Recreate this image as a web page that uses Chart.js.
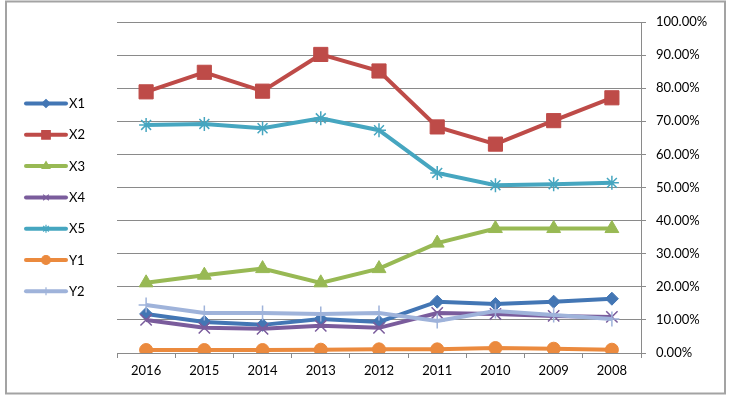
<!DOCTYPE html>
<html>
<head>
<meta charset="utf-8">
<script src="https://cdn.jsdelivr.net/npm/chart.js@4"></script>
<style>
  html, body { margin: 0; padding: 0; background: #fff; }
  #wrap { width: 731px; height: 400px; }
</style>
</head>
<body>
<div id="wrap"><canvas id="chart" width="731" height="400"></canvas></div>
<script>
// values (percent)
const years = ['2016', '2015', '2014', '2013', '2012', '2011', '2010', '2009', '2008'];
const seriesNames = ['X1', 'X2', 'X3', 'X4', 'X5', 'Y1', 'Y2'];
const x1 = [11.8, 9.4, 8.5, 10.3, 9.4, 15.5, 14.8, 15.5, 16.4];
const x2 = [78.9, 84.8, 79.1, 90.2, 85.2, 68.3, 63.1, 70.2, 77.1];
const x3 = [21.2, 23.5, 25.5, 21.2, 25.5, 33.2, 37.6, 37.6, 37.6];
const x4 = [10.0, 7.6, 7.3, 8.2, 7.6, 12.1, 11.8, 11.2, 10.9];
const x5 = [68.9, 69.2, 67.9, 70.9, 67.3, 54.4, 50.7, 51.0, 51.4];
const y1 = [0.9, 0.9, 0.9, 1.0, 1.1, 1.1, 1.5, 1.3, 1.0];
const y2 = [14.5, 12.1, 12.1, 11.8, 12.1, 9.7, 12.7, 11.5, 10.3];

const colors = ['#4376B4', '#BE4B48', '#98B954', '#7A5C9C', '#46A6C0', '#EB8A3E', '#9FB3DA'];
const markers = ['rectRot', 'rect', 'triangle', 'crossRot', 'star', 'circle', 'cross'];
const markerSize = [6.5, 10, 8, 8, 7, 6.5, 7.5];
const legendSize = [4, 6, 4.5, 4, 4, 4.5, 4];

const allData = [x1, x2, x3, x4, x5, y1, y2];

const gridColor = '#8a8a8a';

const datasets = allData.map((d, i) => ({
  label: seriesNames[i],
  data: d,
  borderColor: colors[i],
  backgroundColor: colors[i],
  borderWidth: 4,
  pointStyle: markers[i],
  pointRadius: markerSize[i],
  pointBorderWidth: (markers[i] === 'crossRot' || markers[i] === 'star' || markers[i] === 'cross') ? 1.5 : 1,
  tension: 0,
  order: allData.length - i
}));

// white background + outer frame
const framePlugin = {
  id: 'frame',
  beforeDraw(chart) {
    const ctx = chart.ctx;
    ctx.save();
    ctx.fillStyle = '#fff';
    ctx.fillRect(0, 0, chart.width, chart.height);
    ctx.strokeStyle = '#a3a3a3';
    ctx.lineWidth = 2;
    ctx.strokeRect(6, 1.5, 719, 392);
    ctx.restore();
  }
};

// legend on the left: line with marker, like the spreadsheet legend
const sideLegend = {
  id: 'sideLegend',
  afterDraw(chart) {
    const ctx = chart.ctx;
    ctx.save();
    chart.data.datasets.forEach((ds, i) => {
      const y = 103.5 + i * 31.3;
      ctx.strokeStyle = ds.borderColor;
      ctx.lineWidth = 4;
      ctx.lineCap = 'round';
      ctx.beginPath();
      ctx.moveTo(26, y);
      ctx.lineTo(66, y);
      ctx.stroke();
      ctx.lineCap = 'butt';
      ctx.lineWidth = 1.2;
      ctx.fillStyle = ds.backgroundColor;
      Chart.helpers.drawPoint(ctx, {
        pointStyle: ds.pointStyle,
        radius: legendSize[i],
        rotation: 0,
        borderWidth: 1
      }, 46, y);
      ctx.fillStyle = '#000';
      ctx.font = '13px Lato';
      ctx.textBaseline = 'middle';
      ctx.textAlign = 'left';
      ctx.fillText(ds.label, 69, y + 0.5);
    });
    ctx.restore();
  }
};

new Chart(document.getElementById('chart'), {
  type: 'line',
  data: { labels: years, datasets: datasets },
  options: {
    responsive: false,
    animation: false,
    layout: { padding: { left: 117, top: 22, right: 0, bottom: 0 } },
    plugins: {
      legend: { display: false },
      tooltip: { enabled: false }
    },
    scales: {
      x: {
        offset: true,
        grid: {
          offset: true,
          drawOnChartArea: false,
          drawTicks: true,
          tickLength: 5,
          color: gridColor
        },
        border: { display: true, color: gridColor, width: 1 },
        ticks: { color: '#000', font: { family: 'Lato', size: 13 }, padding: 5, maxRotation: 0 },
        afterFit(scale) { scale.height = 47; }
      },
      y: {
        position: 'right',
        min: 0,
        max: 100,
        grid: { color: gridColor, tickLength: 5 },
        border: { display: true, color: gridColor, width: 1 },
        ticks: {
          stepSize: 10,
          color: '#000',
          font: { family: 'Lato', size: 13 },
          padding: 10,
          callback: v => v.toFixed(2) + '%'
        },
        afterFit(scale) { scale.width = 90; }
      }
    }
  },
  plugins: [framePlugin, sideLegend]
});
</script>
</body>
</html>
